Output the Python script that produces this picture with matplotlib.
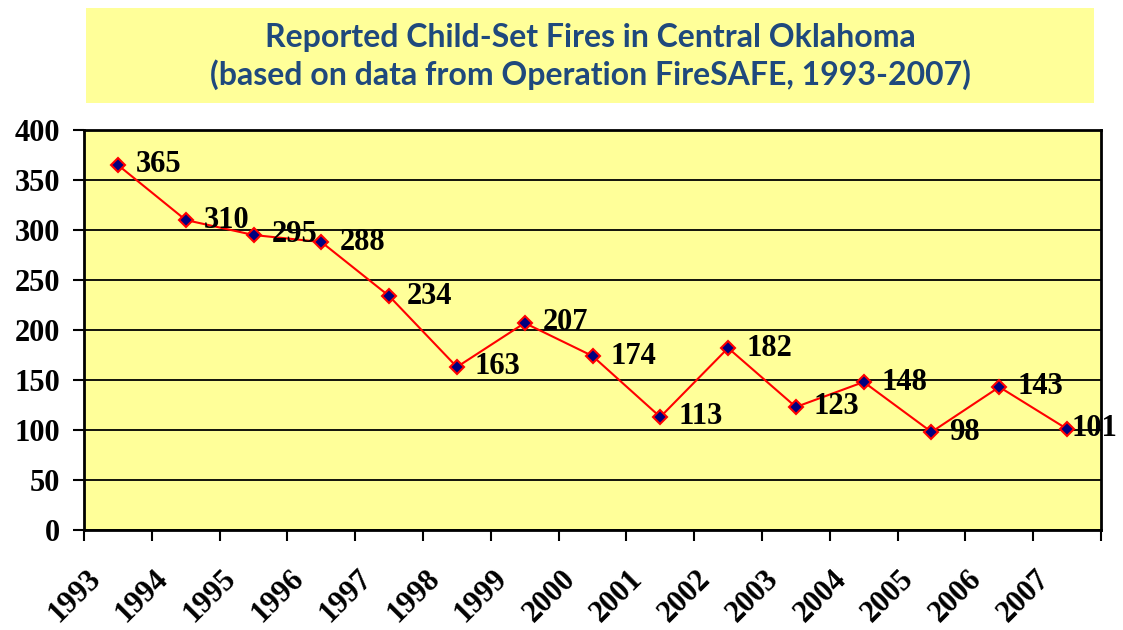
import matplotlib
matplotlib.use('Agg')
import matplotlib.pyplot as plt
from matplotlib.patches import Rectangle

# --- Data ---
years = ['1993', '1994', '1995', '1996', '1997', '1998', '1999', '2000',
         '2001', '2002', '2003', '2004', '2005', '2006', '2007']
fires = [365, 310, 295, 288, 234, 163, 207, 174, 113, 182, 123, 148, 98, 143, 101]
y_ticks = [0, 50, 100, 150, 200, 250, 300, 350, 400]

title_lines = ['Reported Child-Set Fires in Central Oklahoma',
               '(based on data from Operation FireSAFE, 1993-2007)']

serif = 'Liberation Serif'
yellow = '#FFFF99'

fig = plt.figure(figsize=(11.23, 6.3), dpi=100)

# --- Title box ---
fig.patches.append(Rectangle((86 / 1123, 1 - 103 / 630), (1094 - 86) / 1123, 95 / 630,
                             transform=fig.transFigure, facecolor=yellow,
                             edgecolor='none', zorder=0))
fig.text(590 / 1123, 1 - 38 / 630, title_lines[0], ha='center', va='center',
         family='Lato', weight='bold', fontsize=23, color='#1F497D')
fig.text(590 / 1123, 1 - 75 / 630, title_lines[1], ha='center', va='center',
         family='Lato', weight='bold', fontsize=23, color='#1F497D')

# --- Plot area ---
ax = fig.add_axes([84 / 1123, 1 - 530 / 630, (1101 - 84) / 1123, 400 / 630])
ax.set_facecolor(yellow)

x = list(range(len(years)))
ax.plot(x, fires, color='red', lw=1.5, marker='D', markersize=7,
        markerfacecolor='#000080', markeredgecolor='red', markeredgewidth=1.5,
        zorder=3)

for xi, v in zip(x, fires):
    # last label gets squeezed against the right edge, like Excel does
    dx = 3 if xi == x[-1] else 13
    ax.annotate(str(v), (xi, v), xytext=(dx, 0), textcoords='offset points',
                ha='left', va='center', family=serif, weight='bold', fontsize=22,
                zorder=4, annotation_clip=False)

ax.set_xlim(-0.5, len(years) - 0.5)
ax.set_ylim(0, 400)
ax.set_yticks(y_ticks)
ax.set_yticklabels([str(t) for t in y_ticks], family=serif, weight='bold', fontsize=22)
ax.yaxis.grid(True, color='black', lw=1.3)
ax.set_axisbelow(True)

# category boundaries get the tick marks, labels sit under the centres
ax.set_xticks([i - 0.5 for i in range(len(years) + 1)])
ax.set_xticklabels([])
ax.set_xticks([i - 0.32 for i in x], minor=True)
ax.set_xticklabels(years, minor=True, rotation=45, ha='right', va='center',
                   rotation_mode='anchor', family=serif, weight='bold', fontsize=22)
ax.tick_params(axis='x', which='major', length=8, width=1.5, direction='out')
ax.tick_params(axis='x', which='minor', length=0, pad=32)
ax.tick_params(axis='y', length=8, width=1.5, pad=9)

for s in ax.spines.values():
    s.set_linewidth(2)
    s.set_color('black')

fig.savefig('out.png', dpi=100)
